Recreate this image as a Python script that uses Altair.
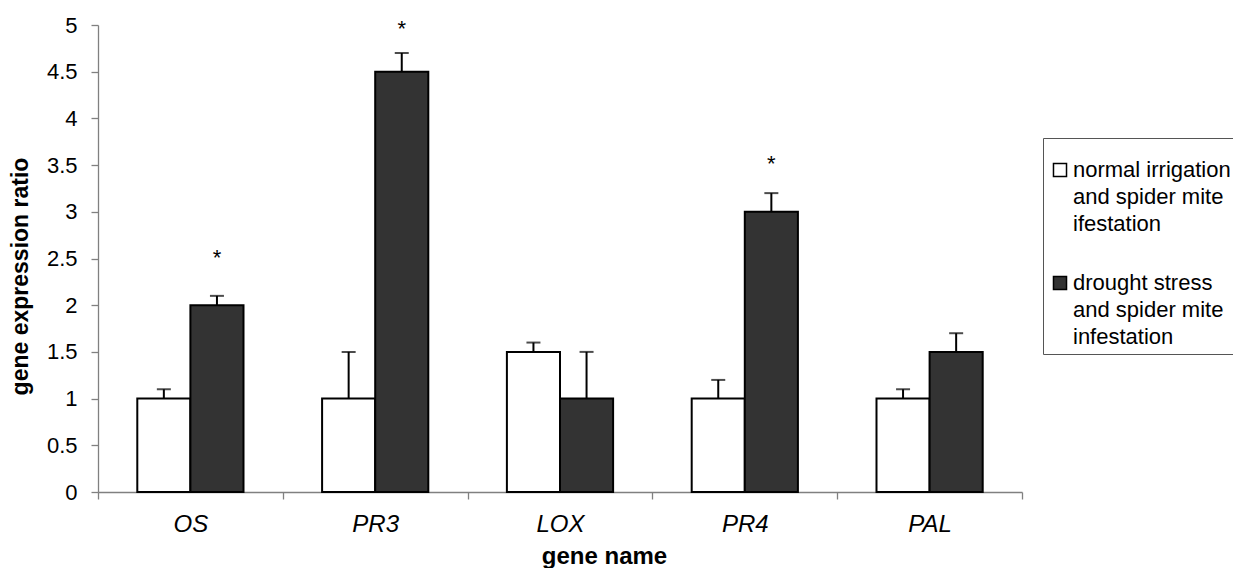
import altair as alt
import pandas as pd

genes = ["OS", "PR3", "LOX", "PR4", "PAL"]
groups = ["normal irrigation|and spider mite|ifestation",
          "drought stress|and spider mite|infestation"]
normal_vals = [1.0, 1.0, 1.5, 1.0, 1.0]
normal_err = [0.1, 0.5, 0.1, 0.2, 0.1]
drought_vals = [2.0, 4.5, 1.0, 3.0, 1.5]
drought_err = [0.1, 0.2, 0.5, 0.2, 0.2]
star_genes = ["OS", "PR3", "PR4"]
star_heights = [2.55, 5.0, 3.55]
y_ticks = [0, 0.5, 1, 1.5, 2, 2.5, 3, 3.5, 4, 4.5, 5]

rows = []
for g, v, e in zip(genes, normal_vals, normal_err):
    rows.append({"gene": g, "group": groups[0], "value": v, "upper": v + e})
for g, v, e in zip(genes, drought_vals, drought_err):
    rows.append({"gene": g, "group": groups[1], "value": v, "upper": v + e})
df = pd.DataFrame(rows)
stars = pd.DataFrame({"gene": star_genes, "group": groups[1], "y": star_heights, "t": "*"})

FONT = "Liberation Sans"

x_enc = alt.X("gene:N", sort=genes,
              scale=alt.Scale(domain=genes, paddingInner=0, paddingOuter=0),
              axis=alt.Axis(title="gene name", tickBand="extent", labelAngle=0,
                            labelFont=FONT, labelFontSize=24, labelFontStyle="italic",
                            labelColor="black", labelPadding=13, tickSize=7,
                            titleFont=FONT, titleFontSize=24, titleFontWeight="bold",
                            titleColor="black", titleX=506, titleY=71,
                            titleBaseline="alphabetic", titleAnchor="start", titleAlign="center"))
xo_enc = alt.XOffset("group:N", sort=groups,
                     scale=alt.Scale(domain=groups, paddingInner=0, paddingOuter=0.74))
y_scale = alt.Scale(domain=[0, 5], nice=False)
y_axis = alt.Axis(title="gene expression ratio", values=y_ticks, format="~g",
                  labelFont=FONT, labelFontSize=22, labelColor="black", labelPadding=14,
                  tickSize=7, titleFont=FONT, titleFontSize=23, titleFontWeight="bold",
                  titleColor="black", titleX=-78, titleY=251, titleBaseline="middle",
                  titleAnchor="start", titleAlign="center", grid=False)

bars = alt.Chart(df).mark_bar(stroke="black", strokeWidth=2).encode(
    x=x_enc, xOffset=xo_enc,
    y=alt.Y("value:Q", scale=y_scale, axis=y_axis),
    color=alt.Color("group:N",
                    scale=alt.Scale(domain=groups, range=["#ffffff", "#333333"]),
                    legend=alt.Legend(title=" ", titleFontSize=8, titlePadding=7,
                                      orient="none", legendX=945, legendY=113,
                                      labelExpr="split(datum.label, '|')",
                                      labelFont=FONT, labelFontSize=22, labelColor="black",
                                      labelLimit=400, labelOffset=2,
                                      symbolType="square", symbolSize=170,
                                      symbolStrokeColor="black", symbolStrokeWidth=1.5,
                                      rowPadding=37, padding=6,
                                      strokeColor="#555555", fillColor="white")),
)

rules = alt.Chart(df).mark_rule(color="black", strokeWidth=2).encode(
    x=x_enc, xOffset=xo_enc, y=alt.Y("value:Q", scale=y_scale), y2="upper:Q")

caps = alt.Chart(df).mark_tick(color="black", size=14, thickness=2, orient="horizontal").encode(
    x=x_enc, xOffset=xo_enc, y=alt.Y("upper:Q", scale=y_scale))

star_marks = alt.Chart(stars).mark_text(font=FONT, fontSize=22, color="black",
                                        baseline="middle", dy=4).encode(
    x=x_enc, xOffset=xo_enc, y=alt.Y("y:Q", scale=y_scale), text="t:N")

chart = alt.layer(bars, rules, caps, star_marks).properties(
    width=924, height=467,
    autosize=alt.AutoSizeParams(type="none"),
    padding={"left": 90, "top": 17, "right": 211, "bottom": 76},
).configure(
    style={"guide-label": {"lineHeight": 27}}
).configure_view(stroke=None).configure_axis(
    domainColor="#808080", tickColor="#808080", domainWidth=1.3, tickWidth=1.3
)

chart.save("out.html", embed_options={"renderer": "svg", "actions": False})
